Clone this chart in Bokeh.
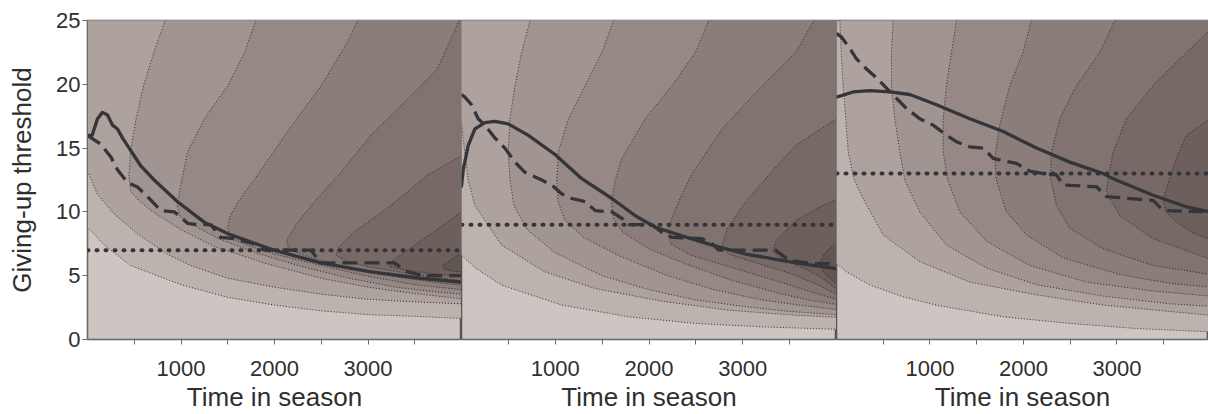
from bokeh.plotting import figure
from bokeh.layouts import row
from bokeh.models import FixedTicker, Span, Range1d, ColumnDataSource
from bokeh.embed import file_html
from bokeh.resources import INLINE

X_MAX = 4000
Y_MAX = 25

# filled contour band colours, level 0 (lightest) .. level 9 (darkest)
band_colors = ["#ccc5c2", "#bcb3af", "#ada29e", "#a19591", "#968985",
               "#8b7e7a", "#817470", "#776a66", "#6d605c", "#625653"]

x_ticks = [500, 1000, 1500, 2000, 2500, 3000, 3500]
x_tick_text = ["", "1000", "", "2000", "", "3000", ""]
y_ticks = [0, 5, 10, 15, 20, 25]
x_title = "Time in season"
y_title = "Giving-up threshold"

# ---------------- panel 1 ----------------
p1_contour_x = [
    [0, 180, 460, 1000, 1500, 2000, 2500, 3000, 3560, 4000],
    [0, 14, 104, 282, 531, 852, 1102, 1500, 2000, 2500, 3000, 3500, 4000],
    [830, 710, 600, 520, 462, 442, 465, 560, 700, 1000, 1350, 1890, 2500, 3000, 3500, 4000],
    [1800, 1680, 1500, 1250, 1070, 1000, 960, 990, 1100, 1400, 1800, 2300, 2800, 3300, 3700, 4000],
    [2890, 2780, 2500, 2140, 1820, 1620, 1520, 1500, 1550, 1700, 2050, 2500, 3000, 3500, 4000],
    [3975, 3740, 3390, 3030, 2710, 2450, 2250, 2130, 2150, 2350, 2800, 3300, 3700, 4000],
    [4000, 3640, 3210, 2850, 2680, 2660, 2750, 3000, 3500, 4000],
    [4000, 3700, 3420, 3250, 3230, 3350, 3650, 4000],
    [4000, 3880, 3800, 3820, 3920, 4000],
]
p1_contour_y = [
    [8.8, 7.4, 5.8, 4.3, 3.3, 2.7, 2.25, 1.95, 1.8, 1.65],
    [13.2, 13.0, 11.4, 9.85, 8.3, 6.7, 5.8, 4.8, 4.1, 3.55, 3.15, 2.95, 2.8],
    [25, 22.5, 19.9, 17.3, 14.8, 12.8, 11.6, 10.8, 10.0, 8.6, 7.3, 6.0, 4.8, 4.1, 3.6, 3.2],
    [25, 22.5, 19.9, 17.3, 14.7, 12.2, 10.5, 9.6, 9.1, 7.9, 6.8, 5.7, 4.8, 4.1, 3.75, 3.55],
    [25, 23.3, 19.9, 16.3, 12.9, 10.9, 9.6, 8.7, 7.9, 7.4, 6.6, 5.8, 4.95, 4.3, 3.9],
    [25, 21.2, 18.6, 16.0, 13.1, 11.0, 9.2, 7.8, 7.1, 6.5, 5.6, 4.9, 4.5, 4.25],
    [14.4, 12.9, 10.3, 8.4, 7.2, 6.6, 6.2, 5.7, 5.1, 4.6],
    [10.0, 8.4, 7.0, 6.1, 5.7, 5.5, 5.2, 4.95],
    [6.8, 6.2, 5.8, 5.5, 5.35, 5.3],
]
p1_contour_level = [1, 2, 3, 4, 5, 6, 7, 8, 9]
p1_solid_x = [0, 50, 107, 160, 214, 267, 321, 374, 428, 499, 570, 713, 963, 1248, 1497, 1996, 2496, 3030, 3565, 4000]
p1_solid_y = [16.0, 16.0, 17.3, 17.8, 17.6, 16.8, 16.5, 15.8, 15.2, 14.4, 13.6, 12.5, 10.8, 9.2, 8.3, 7.0, 6.0, 5.3, 4.8, 4.5]
p1_dash_x = [0, 40, 143, 250, 321, 428, 535, 642, 784, 927, 998, 1070, 1176, 1319, 1426, 1569, 1783, 1890, 2389, 2496, 3280, 3422, 3600, 4000]
p1_dash_y = [16.0, 15.8, 15.3, 14.3, 13.3, 12.3, 11.95, 11.2, 10.1, 10.0, 9.6, 9.1, 9.0, 9.0, 8.0, 7.9, 7.5, 7.0, 7.0, 6.0, 6.0, 5.3, 5.0, 5.0]
p1_fixed = 7

# ---------------- panel 2 ----------------
p2_contour_x = [
    [0, 150, 428, 1070, 1783, 2496, 3209, 4000],
    [0, 18, 71, 143, 428, 891, 1426, 2139, 2852, 3565, 4000],
    [731, 642, 570, 517, 499, 517, 560, 700, 1000, 1500, 2000, 2500, 3000, 3500, 4000],
    [1622, 1497, 1319, 1141, 1034, 1016, 1030, 1100, 1300, 1700, 2200, 2700, 3200, 3600, 4000],
    [2638, 2496, 2246, 1961, 1711, 1640, 1600, 1620, 1720, 2000, 2400, 2900, 3400, 3700, 4000],
    [3761, 3565, 3209, 2781, 2496, 2424, 2280, 2200, 2230, 2450, 2900, 3400, 3700, 4000],
    [4000, 3565, 3280, 3000, 2830, 2780, 2850, 3100, 3500, 3800, 4000],
    [4000, 3800, 3565, 3360, 3320, 3420, 3650, 3850, 4000],
    [4000, 3880, 3820, 3870, 3960, 4000],
]
p2_contour_y = [
    [6.6, 5.6, 4.26, 2.7, 1.78, 1.26, 0.99, 0.8],
    [17.0, 15.7, 12.5, 10.5, 7.4, 5.3, 4.0, 3.0, 2.3, 1.9, 1.75],
    [25, 22.5, 19.9, 17.3, 14.7, 12.5, 10.5, 8.6, 6.8, 5.0, 3.9, 3.1, 2.6, 2.2, 1.95],
    [25, 22.5, 19.9, 17.3, 14.7, 12.5, 10.8, 9.4, 8.0, 6.5, 5.0, 3.9, 3.1, 2.7, 2.35],
    [25, 22.5, 19.9, 17.3, 14.2, 12.5, 10.8, 9.5, 8.4, 7.1, 5.9, 4.6, 3.6, 3.1, 2.75],
    [25, 22.5, 19.9, 16.5, 13.4, 12.5, 10.2, 8.6, 7.5, 6.6, 5.6, 4.5, 3.8, 3.15],
    [17.3, 15.2, 12.9, 10.5, 8.6, 7.4, 6.7, 6.1, 5.2, 4.3, 3.55],
    [11.0, 10.3, 9.3, 7.8, 6.9, 6.3, 5.6, 4.8, 3.95],
    [7.6, 6.8, 6.0, 5.2, 4.6, 4.35],
]
p2_contour_level = [1, 2, 3, 4, 5, 6, 7, 8, 9]
p2_solid_x = [0, 18, 71, 143, 250, 356, 499, 713, 998, 1283, 1604, 1854, 2068, 2317, 2674, 3030, 3565, 4000]
p2_solid_y = [12.0, 13.3, 15.2, 16.5, 17.0, 17.1, 16.9, 16.0, 14.5, 12.6, 11.05, 9.7, 8.8, 8.2, 7.4, 6.7, 6.0, 5.55]
p2_dash_x = [0, 36, 107, 178, 250, 356, 463, 570, 677, 856, 963, 1070, 1176, 1319, 1426, 1604, 1711, 1783, 2032, 2139, 2246, 2567, 2674, 2745, 3351, 3494, 3743, 4000]
p2_dash_y = [19.2, 19.0, 18.4, 17.3, 16.8, 15.8, 15.0, 13.9, 13.1, 12.5, 12.1, 11.4, 11.05, 10.8, 10.1, 10.0, 9.5, 9.0, 9.0, 8.4, 8.0, 7.9, 7.5, 7.0, 7.0, 6.2, 5.95, 5.95]
p2_fixed = 9

# ---------------- panel 3 ----------------
p3_contour_x = [
    [0, 107, 357, 713, 1070, 1783, 2496, 3209, 4000],
    [36, 50, 71, 100, 125, 190, 285, 499, 891, 1426, 2139, 2852, 3565, 4000],
    [606, 588, 588, 624, 677, 730, 891, 1176, 1604, 2139, 2852, 3565, 4000],
    [1283, 1230, 1176, 1141, 1141, 1190, 1319, 1604, 2068, 2674, 3387, 4000],
    [2085, 1996, 1854, 1747, 1693, 1710, 1818, 2032, 2424, 3030, 3565, 4000],
    [2977, 2816, 2567, 2389, 2300, 2290, 2353, 2496, 2852, 3387, 4000],
    [4000, 3743, 3387, 3101, 2959, 2905, 2888, 3030, 3387, 4000],
    [4000, 3743, 3636, 3560, 3494, 3520, 3636, 3800, 4000],
]
p3_contour_y = [
    [5.96, 5.3, 4.27, 3.35, 2.69, 1.78, 1.26, 0.86, 0.6],
    [25, 22.5, 19.9, 17.3, 14.7, 12.5, 11.05, 8.2, 6.1, 4.5, 3.5, 2.7, 2.2, 1.9],
    [25, 22.5, 19.9, 17.3, 14.7, 12.5, 10.0, 7.4, 5.6, 4.3, 3.4, 2.8, 2.6],
    [25, 22.5, 19.9, 17.3, 14.7, 12.5, 10.0, 7.7, 5.8, 4.5, 3.8, 3.4],
    [25, 22.5, 19.9, 16.8, 14.2, 12.5, 10.0, 8.2, 6.4, 5.1, 4.4, 4.1],
    [25, 22.5, 19.9, 17.3, 14.7, 12.6, 10.5, 8.7, 7.1, 5.8, 5.1],
    [24.3, 22.5, 19.9, 17.3, 14.7, 12.5, 11.6, 9.7, 7.9, 6.3],
    [17.3, 16.0, 14.2, 12.5, 11.0, 10.0, 9.2, 8.4, 7.8],
]
p3_contour_level = [1, 2, 3, 4, 5, 6, 7, 8]
p3_solid_x = [0, 178, 356, 570, 784, 1070, 1426, 1783, 2139, 2496, 2852, 2959, 3387, 3743, 4000]
p3_solid_y = [19.0, 19.4, 19.5, 19.4, 19.2, 18.4, 17.3, 16.3, 15.0, 13.9, 13.0, 12.6, 11.3, 10.4, 10.0]
p3_dash_x = [0, 53, 143, 214, 321, 428, 535, 642, 749, 891, 1034, 1176, 1283, 1426, 1569, 1676, 1783, 1925, 2068, 2210, 2353, 2424, 2781, 2888, 3387, 3494, 4000]
p3_dash_y = [24.0, 23.7, 22.8, 22.0, 21.2, 20.5, 19.7, 18.9, 18.1, 17.3, 16.8, 16.0, 15.5, 15.1, 15.0, 14.2, 14.0, 13.8, 13.2, 13.0, 12.9, 12.1, 11.97, 11.2, 10.9, 10.1, 10.0]
p3_fixed = 13

FONT = "Liberation Sans"
TEXT = "#2f2f2f"
AXIS = "#6a6a6a"
LINE = "#343539"


def band_polygon(xs, ys):
    px, py = list(xs), list(ys)
    if xs[0] == 0:            # contour starts on the left edge
        px += [X_MAX, 0]
        py += [Y_MAX, Y_MAX]
    elif ys[0] == Y_MAX:      # contour starts on the top edge
        px += [X_MAX]
        py += [Y_MAX]
    return px, py             # starts on the right edge: closes along it


def make_panel(width, x_end, left_border, cx, cy, clev, sx, sy, dx, dy, thr, show_y):
    p = figure(width=width, height=414,
               x_range=Range1d(0, x_end), y_range=Range1d(0, Y_MAX),
               output_backend="svg", toolbar_location=None,
               y_axis_location="left" if show_y else None,
               min_border_left=left_border, min_border_right=0,
               min_border_top=20, min_border_bottom=75)
    p.background_fill_color = band_colors[0]
    p.border_fill_color = "white"
    p.grid.visible = False
    p.outline_line_color = "#555555"
    p.outline_line_width = 1.5

    polys = [band_polygon(x, y) for x, y in zip(cx, cy)]
    src = ColumnDataSource(dict(xs=[q[0] for q in polys], ys=[q[1] for q in polys],
                                color=[band_colors[l] for l in clev]))
    p.patches("xs", "ys", source=src, fill_color="color", line_color="color",
              line_width=0.5)
    p.multi_line(xs=cx, ys=cy, line_color="#1e1e1e", line_width=1,
                 line_dash="1 2", line_alpha=0.85)

    p.add_layout(Span(location=thr, dimension="width", line_color=LINE,
                      line_width=4, line_dash="1 8", line_cap="round"))
    p.line(dx, dy, line_color=LINE, line_width=3.3, line_dash="15 7",
           line_join="round")
    p.line(sx, sy, line_color=LINE, line_width=3.3, line_join="round",
           line_cap="round")

    xa = p.xaxis[0]
    xa.ticker = FixedTicker(ticks=x_ticks)
    xa.major_label_overrides = {t: s for t, s in zip(x_ticks, x_tick_text)}
    xa.minor_tick_line_color = None
    xa.major_tick_in = 0
    xa.major_tick_out = 5
    xa.axis_line_color = AXIS
    xa.major_tick_line_color = AXIS
    xa.major_label_text_font = FONT
    xa.major_label_text_font_size = "22px"
    xa.major_label_text_color = TEXT
    xa.major_label_text_line_height = 1.0
    xa.major_label_standoff = 16
    xa.axis_label = x_title
    xa.axis_label_text_font = FONT
    xa.axis_label_text_font_size = "26px"
    xa.axis_label_text_font_style = "normal"
    xa.axis_label_text_color = TEXT
    xa.axis_label_text_line_height = 1.0
    xa.axis_label_standoff = 3

    if show_y:
        ya = p.yaxis[0]
        ya.ticker = FixedTicker(ticks=y_ticks)
        ya.minor_tick_line_color = None
        ya.major_tick_in = 0
        ya.major_tick_out = 5
        ya.axis_line_color = AXIS
        ya.major_tick_line_color = AXIS
        ya.major_label_text_font = FONT
        ya.major_label_text_font_size = "22px"
        ya.major_label_text_color = TEXT
        ya.major_label_standoff = 2
        ya.axis_label = y_title
        ya.axis_label_text_font = FONT
        ya.axis_label_text_font_size = "26px"
        ya.axis_label_text_font_style = "normal"
        ya.axis_label_text_color = TEXT
        ya.axis_label_standoff = 16
    return p


f1 = make_panel(461, 4000, 87, p1_contour_x, p1_contour_y, p1_contour_level,
                p1_solid_x, p1_solid_y, p1_dash_x, p1_dash_y, p1_fixed, True)
f2 = make_panel(375, 4000, 0, p2_contour_x, p2_contour_y, p2_contour_level,
                p2_solid_x, p2_solid_y, p2_dash_x, p2_dash_y, p2_fixed, False)
f3 = make_panel(372, 3979, 0, p3_contour_x, p3_contour_y, p3_contour_level,
                p3_solid_x, p3_solid_y, p3_dash_x, p3_dash_y, p3_fixed, False)

layout = row(f1, f2, f3)
open("out.html", "w").write(file_html(layout, INLINE))
